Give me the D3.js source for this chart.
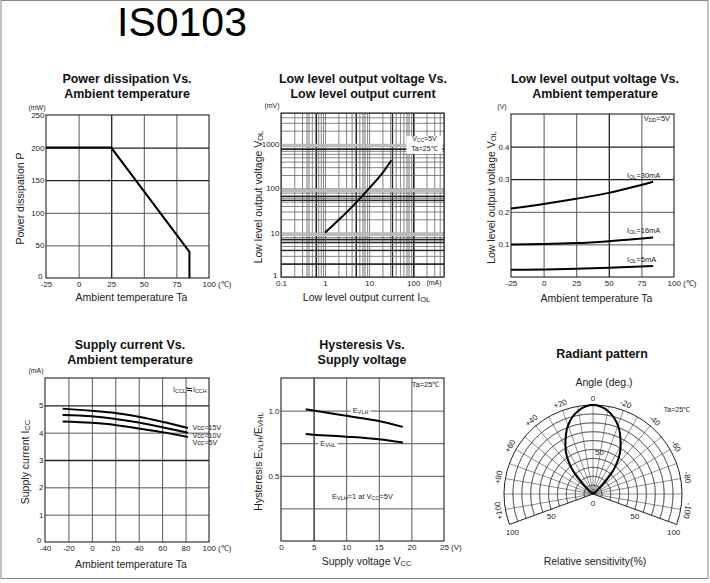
<!DOCTYPE html>
<html>
<head>
<meta charset="utf-8">
<script src="https://cdn.jsdelivr.net/npm/d3@7"></script>
<style>
  body { margin: 0; background: #fff; }
  svg { display: block; }
  text { font-family: "Liberation Sans", Arial, sans-serif; fill: #222; }
</style>
</head>
<body>
<svg id="chart" width="710" height="583"></svg>
<script>
// ========= Data ========= //
// Power dissipation vs ambient temperature
const powerTemp = [-25, 25, 85, 85];
const powerMw = [200, 200, 40, 0];

// Low level output voltage vs low level output current (log-log)
const iolMa = [1, 2, 5, 10, 20, 32];
const volMv = [10, 19, 47, 100, 220, 430];

// Low level output voltage vs ambient temperature
const volTemp = [-25, 0, 25, 50, 84];
const vol30mA = [0.21, 0.224, 0.24, 0.258, 0.292];
const vol16mA = [0.100, 0.101, 0.104, 0.110, 0.121];
const vol5mA = [0.022, 0.023, 0.025, 0.028, 0.034];

// Supply current vs ambient temperature
const iccTemp = [-25, 0, 20, 40, 60, 82];
const icc15V = [4.88, 4.80, 4.72, 4.58, 4.40, 4.17];
const icc10V = [4.65, 4.60, 4.50, 4.37, 4.20, 4.00];
const icc5V = [4.41, 4.36, 4.28, 4.15, 4.02, 3.84];

// Hysteresis vs supply voltage
const vccV = [3.8, 5, 10, 15, 18.7];
const evlh = [1.01, 1.0, 0.96, 0.92, 0.875];
const evhl = [0.82, 0.815, 0.80, 0.78, 0.755];

// Radiant pattern (angle in deg, relative sensitivity in %)
const radAngle = [-53, -50, -45, -40, -35, -30, -20, -10, 0, 10, 20, 30, 35, 40, 45, 50, 53];
const radRel = [0, 5, 18, 37, 51, 62, 82, 95, 100, 95, 82, 62, 51, 37, 18, 5, 0];

// Tick labels
const tempTicksA = [-25, 0, 25, 50, 75, 100];
const tempLabelsA = ['-25', '0', '25', '50', '75', '100 (\u2103)'];
const powerTicks = [0, 50, 100, 150, 200, 250];
const logCurrentTicks = [0.1, 1, 10, 100];
const logCurrentLabels = ['0.1', '1', '10', '100'];
const logVoltTicks = [1, 10, 100, 1000];
const volTicks = [0.1, 0.2, 0.3, 0.4];
const volLabels = ['0.1', '0.2', '0.3', '0.4'];
const tempTicksB = [-40, -20, 0, 20, 40, 60, 80, 100];
const tempLabelsB = ['-40', '-20', '0', '20', '40', '60', '80', '100 (\u2103)'];
const iccTicks = [0, 1, 2, 3, 4, 5];
const vccTicks = [0, 5, 10, 15, 20, 25];
const vccLabels = ['0', '5', '10', '15', '20', '25 (V)'];
const hystTicks = [0.5, 1.0];
const hystLabels = ['0.5', '1.0'];
const polarAngleTicks = [100, 80, 60, 40, 20, 0, -20, -40, -60, -80, -100];
const polarAngleLabels = ['+100', '+80', '+60', '+40', '+20', '0', '-20', '-40', '-60', '-80', '-100'];

// odd scanned log grid: blurred bands and heavy lines
const logBandX = [0.4, 7.5, 75];
const logHeavyX = [0.62, 5, 33, 100];
const logBandY = [9.5, 92, 950];
const logHeavyY = [2, 4.1, 6.2, 7.2, 55, 67, 780];

const svg = d3.select('#chart');
const titleFont = 'Lato, "Open Sans", sans-serif';

// ========= Helpers ========= //
// parts: plain strings, or one-element arrays for subscripts
function richText(parent, x, y, parts, size) {
  const t = parent.append('text')
    .attr('x', x)
    .attr('y', y)
    .attr('font-size', size);
  let low = false;
  parts.forEach(p => {
    const sub = Array.isArray(p);
    const ts = t.append('tspan').text(sub ? p[0] : p);
    if (sub) {
      ts.attr('font-size', size * 0.72);
      if (!low) ts.attr('dy', 1);
      low = true;
    } else if (low) {
      ts.attr('dy', -1);
      low = false;
    }
  });
  return t;
}

function backdrop(textSel, pad) {
  const b = textSel.node().getBBox();
  d3.select(textSel.node().parentNode)
    .insert('rect', () => textSel.node())
    .attr('x', b.x - pad)
    .attr('y', b.y)
    .attr('width', b.width + pad * 2)
    .attr('height', b.height)
    .attr('fill', '#fff');
}

function title(lines, cx, y0) {
  lines.forEach((l, i) => {
    svg.append('text')
      .attr('x', cx)
      .attr('y', y0 + i * 15)
      .attr('text-anchor', 'middle')
      .attr('font-family', titleFont)
      .attr('font-weight', 'bold')
      .attr('font-size', 12.5)
      .style('fill', '#111')
      .text(l);
  });
}

function panel(c) {
  const g = svg.append('g');
  const x = (c.xLog ? d3.scaleLog() : d3.scaleLinear()).domain(c.xDomain).range([c.left, c.right]);
  const y = (c.yLog ? d3.scaleLog() : d3.scaleLinear()).domain(c.yDomain).range([c.bottom, c.top]);
  const h = c.bottom - c.top;
  const w = c.right - c.left;

  // grid lines, drawn as long axis ticks
  const gridStyle = (sel, heavy, band) => sel.selectAll('line')
    .attr('stroke', d => band && band.includes(d) ? '#bbb' : heavy.includes(d) ? '#222' : (c.gridColor || '#555'))
    .attr('stroke-width', d => band && band.includes(d) ? 3.5 : heavy.includes(d) ? 1.3 : (c.gridWidth || 1));

  g.append('g')
    .attr('transform', `translate(0,${c.bottom})`)
    .call(d3.axisBottom(x).tickValues(c.xGrid).tickSize(-h).tickFormat(''))
    .call(a => a.select('.domain').remove())
    .call(a => gridStyle(a, c.xHeavy || [], c.xBand));

  g.append('g')
    .attr('transform', `translate(${c.left},0)`)
    .call(d3.axisLeft(y).tickValues(c.yGrid).tickSize(-w).tickFormat(''))
    .call(a => a.select('.domain').remove())
    .call(a => gridStyle(a, c.yHeavy || [], c.yBand));

  g.append('rect')
    .attr('x', c.left)
    .attr('y', c.top)
    .attr('width', w)
    .attr('height', h)
    .attr('fill', 'none')
    .attr('stroke', '#222')
    .attr('stroke-width', 1.1);

  // tick labels
  const xa = g.append('g')
    .attr('transform', `translate(0,${c.bottom})`)
    .call(d3.axisBottom(x).tickValues(c.xTicks).tickFormat((d, i) => c.xLabels[i]).tickSize(0).tickPadding(3))
    .call(a => a.select('.domain').remove())
    .attr('font-size', 8)
    .attr('font-family', '"Liberation Sans", Arial, sans-serif');
  if (c.lastShift) {
    xa.selectAll('.tick:last-of-type text')
      .attr('text-anchor', 'start')
      .attr('dx', c.lastShift);
  }

  const ya = g.append('g')
    .attr('transform', `translate(${c.left},0)`)
    .call(d3.axisLeft(y).tickValues(c.yTicks).tickFormat((d, i) => c.yLabels ? c.yLabels[i] : d).tickSize(0).tickPadding(1.5))
    .call(a => a.select('.domain').remove())
    .attr('font-size', 8)
    .attr('font-family', '"Liberation Sans", Arial, sans-serif');
  // the corner label sits a little above and left of the corner
  ya.selectAll('.tick text').filter(d => d === c.yDomain[0])
    .attr('dy', '0.05em')
    .attr('dx', '-2');

  // unit above the y axis
  g.append('text')
    .attr('x', c.left - 9)
    .attr('y', c.top - 5)
    .attr('text-anchor', 'middle')
    .attr('font-size', 7)
    .text(c.yUnit);

  // axis titles
  richText(g, (c.left + c.right) / 2 + 4, c.xLabelY, c.xLabel, 10.5)
    .attr('text-anchor', 'middle');
  richText(g, c.yLabelX, (c.top + c.bottom) / 2 + 2, c.yLabel, 10.5)
    .attr('text-anchor', 'middle')
    .attr('transform', `rotate(-90 ${c.yLabelX} ${(c.top + c.bottom) / 2 + 2})`);

  return { g, x, y };
}

function curve(p, xs, ys, type) {
  p.g.append('path')
    .attr('d', d3.line()
      .x((d, i) => p.x(xs[i]))
      .y(d => p.y(d))
      .curve(type || d3.curveMonotoneX)(ys))
    .attr('fill', 'none')
    .attr('stroke', '#000')
    .attr('stroke-width', 2);
}

// ========= Outer frame and heading ========= //
svg.append('rect')
  .attr('x', 1).attr('y', 0.5)
  .attr('width', 707).attr('height', 578)
  .attr('fill', 'none')
  .attr('stroke', '#888');

svg.append('text')
  .attr('x', 182)
  .attr('y', 36)
  .attr('text-anchor', 'middle')
  .attr('font-family', titleFont)
  .attr('font-size', 41)
  .style('fill', '#000')
  .text('IS0103');

// ========= Power dissipation ========= //
title(['Power dissipation Vs.', 'Ambient temperature'], 127, 83);
const p1 = panel({
  left: 46, right: 209, top: 115, bottom: 278,
  xDomain: [-25, 100], yDomain: [0, 250],
  xGrid: [0, 25, 50, 75], xHeavy: [25],
  yGrid: [50, 100, 150, 200], yHeavy: [150, 200],
  xTicks: tempTicksA, xLabels: tempLabelsA, lastShift: -7,
  yTicks: powerTicks,
  yUnit: '(mW)',
  xLabel: ['Ambient temperature  Ta'], xLabelY: 301,
  yLabel: ['Power dissipation  P'], yLabelX: 24
});
curve(p1, powerTemp, powerMw, d3.curveLinear);

// ========= Low level output voltage vs current ========= //
title(['Low level output voltage Vs.', 'Low level output current'], 363, 83);
const logX = d3.scaleLog().domain([0.1, 500]);
const logY = d3.scaleLog().domain([1, 5000]);
const p2 = panel({
  left: 281, right: 444, top: 113, bottom: 277,
  xLog: true, yLog: true,
  xDomain: logX.domain(), yDomain: logY.domain(),
  gridColor: '#666', gridWidth: 0.8,
  xGrid: logX.ticks().concat(logBandX, logHeavyX), xHeavy: logHeavyX, xBand: logBandX,
  yGrid: logY.ticks().concat(logBandY, logHeavyY), yHeavy: logHeavyY, yBand: logBandY,
  xTicks: logCurrentTicks, xLabels: logCurrentLabels,
  yTicks: logVoltTicks,
  yUnit: '(mV)',
  xLabel: ['Low level output current  I', ['OL']], xLabelY: 301,
  yLabel: ['Low level output voltage  V', ['OL']], yLabelX: 262
});
curve(p2, iolMa, volMv);
p2.g.append('text')
  .attr('x', 434).attr('y', 285)
  .attr('text-anchor', 'middle')
  .attr('font-size', 7)
  .text('(mA)');
p2.g.append('rect')
  .attr('x', p2.x(70)).attr('y', p2.y(1500))
  .attr('width', p2.x(460) - p2.x(70)).attr('height', p2.y(600) - p2.y(1500))
  .attr('fill', '#fff');
richText(p2.g, p2.x(180), p2.y(1150), ['V', ['CC'], '=5V'], 7).attr('text-anchor', 'middle');
richText(p2.g, p2.x(180), p2.y(700), ['Ta=25\u2103'], 7).attr('text-anchor', 'middle');

// ========= Low level output voltage vs temperature ========= //
title(['Low level output voltage Vs.', 'Ambient temperature'], 595, 83);
const p3 = panel({
  left: 511, right: 674, top: 114, bottom: 277,
  xDomain: [-25, 100], yDomain: [0, 0.5],
  xGrid: [0, 25, 50, 75], xHeavy: [50],
  yGrid: [0.1, 0.2, 0.3, 0.4], yHeavy: [0.3, 0.4],
  xTicks: tempTicksA, xLabels: tempLabelsA, lastShift: -7,
  yTicks: volTicks, yLabels: volLabels,
  yUnit: '(V)',
  xLabel: ['Ambient temperature  Ta'], xLabelY: 302,
  yLabel: ['Low level output voltage  V', ['OL']], yLabelX: 495
});
curve(p3, volTemp, vol30mA);
curve(p3, volTemp, vol16mA);
curve(p3, volTemp, vol5mA);
richText(p3.g, p3.x(64), p3.y(0.303), ['I', ['OL'], '=30mA'], 7.5);
richText(p3.g, p3.x(64), p3.y(0.135), ['I', ['OL'], '=16mA'], 7.5);
richText(p3.g, p3.x(64), p3.y(0.047), ['I', ['OL'], '=5mA'], 7.5);
richText(p3.g, p3.x(97), p3.y(0.477), ['V', ['DD'], '=5V'], 7.5).attr('text-anchor', 'end');

// ========= Supply current ========= //
title(['Supply current Vs.', 'Ambient temperature'], 130, 349);
const p4 = panel({
  left: 45, right: 209, top: 378, bottom: 542,
  xDomain: [-40, 100], yDomain: [0, 6],
  xGrid: [-20, 0, 20, 40, 60, 80], xHeavy: [],
  yGrid: [1, 2, 3, 4, 5], yHeavy: [3, 5],
  xTicks: tempTicksB, xLabels: tempLabelsB, lastShift: -7,
  yTicks: iccTicks,
  yUnit: '(mA)',
  xLabel: ['Ambient temperature  Ta'], xLabelY: 568,
  yLabel: ['Supply current  I', ['CC']], yLabelX: 29
});
curve(p4, iccTemp, icc15V);
curve(p4, iccTemp, icc10V);
curve(p4, iccTemp, icc5V);
richText(p4.g, p4.x(86), p4.y(4.21) + 3, ['Vcc=15V'], 7.1);
richText(p4.g, p4.x(86), p4.y(3.93) + 3, ['Vcc=10V'], 7.1);
richText(p4.g, p4.x(86), p4.y(3.65) + 3, ['Vcc=5V'], 7.1);
richText(p4.g, p4.x(98), p4.y(5.48), ['I', ['CCL'], '\u2252I', ['CCH']], 7.5).attr('text-anchor', 'end');

// ========= Hysteresis ========= //
title(['Hysteresis Vs.', 'Supply voltage'], 362, 349);
const p5 = panel({
  left: 281, right: 444, top: 378, bottom: 541,
  xDomain: [0, 25], yDomain: [0, 1.25],
  xGrid: [5, 10, 15, 20], xHeavy: [5],
  yGrid: [0.25, 0.5, 0.75, 1.0], yHeavy: [],
  xTicks: vccTicks, xLabels: vccLabels, lastShift: -4.5,
  yTicks: hystTicks, yLabels: hystLabels,
  yUnit: '',
  xLabel: ['Supply voltage  V', ['CC']], xLabelY: 565,
  yLabel: ['Hysteresis  E', ['VLH'], '/E', ['VHL']], yLabelX: 262
});
curve(p5, vccV, evlh);
curve(p5, vccV, evhl);
const lblVlh = richText(p5.g, p5.x(12.2), p5.y(1.0) + 2.5, ['E', ['VLH']], 7.5).attr('text-anchor', 'middle');
backdrop(lblVlh, 2);
const lblVhl = richText(p5.g, p5.x(7.2), p5.y(0.75) + 2.5, ['E', ['VHL']], 7.5).attr('text-anchor', 'middle');
backdrop(lblVhl, 2);
richText(p5.g, p5.x(12.5), p5.y(0.32), ['E', ['VLH'], '=1 at V', ['CC'], '=5V'], 7.5).attr('text-anchor', 'middle');
richText(p5.g, p5.x(24.3), p5.y(1.18), ['Ta=25\u2103'], 7.5).attr('text-anchor', 'end');

// ========= Radiant pattern ========= //
title(['Radiant pattern'], 602, 358);
const cx = 593, cy = 494;
const rad = d3.scaleLinear().domain([0, 100]).range([0, 89]);
const toRad = deg => deg * Math.PI / 180;
const pg = svg.append('g').attr('transform', `translate(${cx},${cy})`);

pg.selectAll('.ring')
  .data(d3.range(10, 100, 10))
  .join('path')
    .attr('d', d => d3.arc().innerRadius(rad(d)).outerRadius(rad(d))
      .startAngle(toRad(-110)).endAngle(toRad(110))())
    .attr('fill', 'none')
    .attr('stroke', '#444')
    .attr('stroke-width', 0.6);

pg.selectAll('.spoke')
  .data(d3.range(-100, 101, 10))
  .join('line')
    .attr('x1', 0).attr('y1', 0)
    .attr('x2', d => rad(100) * Math.sin(toRad(d)))
    .attr('y2', d => -rad(100) * Math.cos(toRad(d)))
    .attr('stroke', '#444')
    .attr('stroke-width', 0.6);

pg.append('path')
  .attr('d', d3.arc().innerRadius(0).outerRadius(rad(100))
    .startAngle(toRad(-110)).endAngle(toRad(110))())
  .attr('fill', 'none')
  .attr('stroke', '#222')
  .attr('stroke-width', 1);

pg.append('path')
  .attr('d', d3.lineRadial()
    .angle((d, i) => -toRad(radAngle[i]))
    .radius(d => rad(d))
    .curve(d3.curveCatmullRom)(radRel))
  .attr('fill', 'none')
  .attr('stroke', '#000')
  .attr('stroke-width', 2);

pg.selectAll('.angle-label')
  .data(polarAngleTicks)
  .join('text')
    .attr('transform', d => {
      const a = -d;
      const px = 96 * Math.sin(toRad(a));
      const py = -96 * Math.cos(toRad(a));
      return `translate(${px},${py}) rotate(${a})`;
    })
    .attr('text-anchor', 'middle')
    .attr('dy', '0.35em')
    .attr('font-size', 8)
    .text((d, i) => polarAngleLabels[i]);

[-110, 110].forEach(a => {
  [50, 100].forEach(v => {
    pg.append('text')
      .attr('x', rad(v) * Math.sin(toRad(a)) + (v === 100 ? -Math.sign(a) * 3 : 0))
      .attr('y', -rad(v) * Math.cos(toRad(a)) + (v === 100 ? 11 : 10))
      .attr('text-anchor', 'middle')
      .attr('font-size', 8)
      .text(v);
  });
});
pg.append('text').attr('x', 2).attr('y', -rad(50) + 5).attr('font-size', 8).text('50');
pg.append('text').attr('x', 0).attr('y', 12).attr('text-anchor', 'middle').attr('font-size', 8).text('0');

svg.append('text').attr('x', 604).attr('y', 386).attr('text-anchor', 'middle').attr('font-size', 10.5).text('Angle (deg.)');
svg.append('text').attr('x', 677).attr('y', 412).attr('text-anchor', 'middle').attr('font-size', 7).text('Ta=25\u2103');
svg.append('text').attr('x', 595).attr('y', 565).attr('text-anchor', 'middle').attr('font-size', 10.5).text('Relative sensitivity(%)');
</script>
</body>
</html>
